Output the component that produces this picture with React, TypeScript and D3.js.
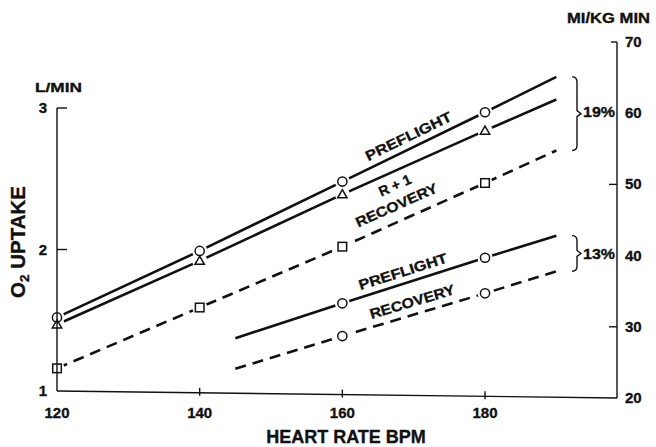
import React from "react";
import * as d3 from "d3";

const W = 656;
const H = 447;

// Axis ticks
const bpmTicks = [120, 140, 160, 180];
const leftTicks = [1, 2, 3];
const rightTicks = [20, 30, 40, 50, 60, 70];
const rightTickMarks = [30, 50, 70];

// Oxygen uptake in L/min (left scale)
const upperBpm = [120, 140, 160, 180, 190];
const upperMarked = [120, 140, 160, 180];
const preflightL = [1.52, 1.99, 2.48, 2.97, 3.22];
const rPlus1L = [1.47, 1.92, 2.39, 2.84, 3.06];
const recoveryL = [1.16, 1.59, 2.02, 2.47, 2.7];

// Oxygen uptake in ml/kg min (right scale)
const lowerBpm = [145, 160, 180, 190];
const lowerMarked = [160, 180];
const preflightMl = [28.4, 33.3, 39.7, 42.8];
const recoveryMl = [24.1, 28.7, 34.7, 37.8];

const FONT = "'Liberation Sans', Arial, Helvetica, sans-serif";
const INK = "#111";

const x = d3.scaleLinear().domain([120, 198.5]).range([57, 617]);
const yL = d3.scaleLinear().domain([1, 3]).range([391, 108]);
const yR = d3.scaleLinear().domain([20, 70]).range([398, 42]);

type Series = {
  id: string;
  bpm: number[];
  vals: number[];
  y: d3.ScaleLinear<number, number>;
  marked: number[];
  marker: "circle" | "triangle" | "square";
  dashed: boolean;
};

const series: Series[] = [
  { id: "pre", bpm: upperBpm, vals: preflightL, y: yL, marked: upperMarked, marker: "circle", dashed: false },
  { id: "r1", bpm: upperBpm, vals: rPlus1L, y: yL, marked: upperMarked, marker: "triangle", dashed: false },
  { id: "rec", bpm: upperBpm, vals: recoveryL, y: yL, marked: upperMarked, marker: "square", dashed: true },
  { id: "preMl", bpm: lowerBpm, vals: preflightMl, y: yR, marked: lowerMarked, marker: "circle", dashed: false },
  { id: "recMl", bpm: lowerBpm, vals: recoveryMl, y: yR, marked: lowerMarked, marker: "circle", dashed: true },
];

function pointAt(s: Series, b: number): [number, number, number] {
  let i = 0;
  while (i < s.bpm.length - 2 && b > s.bpm[i + 1]) i++;
  const t = (b - s.bpm[i]) / (s.bpm[i + 1] - s.bpm[i]);
  const v = s.vals[i] + t * (s.vals[i + 1] - s.vals[i]);
  const x0 = x(s.bpm[i]), y0 = s.y(s.vals[i]);
  const x1 = x(s.bpm[i + 1]), y1 = s.y(s.vals[i + 1]);
  const ang = (Math.atan2(y1 - y0, x1 - x0) * 180) / Math.PI;
  return [x(b), s.y(v), ang];
}

const lineLabels = [
  { s: 0, text: "PREFLIGHT", b: 170, off: -7, len: 94 },
  { s: 1, text: "R + 1", b: 166.6, off: 18, len: 34 },
  { s: 2, text: "RECOVERY", b: 168.5, off: -11, len: 88 },
  { s: 3, text: "PREFLIGHT", b: 169, off: -7, len: 92 },
  { s: 4, text: "RECOVERY", b: 170.3, off: -8, len: 88 },
];

function Marker({ kind, cx, cy }: { kind: string; cx: number; cy: number }) {
  const st = { fill: "none", stroke: INK, strokeWidth: 1.5 };
  if (kind === "circle") return <circle cx={cx} cy={cy} r={4.6} {...st} />;
  if (kind === "square") return <rect x={cx - 4.3} y={cy - 4.3} width={8.6} height={8.6} {...st} />;
  const tri = d3.symbol().type(d3.symbolTriangle).size(38)()!;
  return <path d={tri} transform={`translate(${cx},${cy + 0.8})`} {...st} />;
}

function Bracket({ top, bottom, xl }: { top: number; bottom: number; xl: number }) {
  const xv = xl + 5;
  const mid = (top + bottom) / 2;
  const d = `M${xl},${top} Q${xv},${top} ${xv},${top + 5} V${mid - 3} L${xv + 4},${mid} L${xv},${mid + 3} V${bottom - 5} Q${xv},${bottom} ${xl},${bottom}`;
  return <path d={d} fill="none" stroke={INK} strokeWidth={1.4} />;
}

export default function App() {
  const line = (s: Series) =>
    d3.line<number>().x((_, i) => x(s.bpm[i])).y((v) => s.y(v))(s.vals)!;

  const x0 = x(120);
  const x1 = x(198.5);
  const lastIdx = upperBpm.length - 1;
  const lastLow = lowerBpm.length - 1;

  return (
    <svg width={W} height={H} style={{ position: "absolute", left: 0, top: 0, background: "#fff" }} fontFamily={FONT} fontWeight="bold">
      <defs>
        <mask id="gaps" maskUnits="userSpaceOnUse" x={0} y={0} width={W} height={H}>
          <rect x={0} y={0} width={W} height={H} fill="#fff" />
          {series.map((s) =>
            s.marked.map((b) => {
              const i = s.bpm.indexOf(b);
              return <circle key={s.id + b} cx={x(b)} cy={s.y(s.vals[i])} r={7.5} fill="#000" />;
            })
          )}
        </mask>
      </defs>
      <rect width={W} height={H} fill="#fff" />

      {/* axes frame */}
      <g stroke={INK} strokeWidth={1.4} fill="none">
        <line x1={x0} y1={yL(3)} x2={x0} y2={yL(1)} />
        <line x1={x0} y1={yL(1)} x2={x1} y2={yR(20)} />
        <line x1={x1} y1={yR(70)} x2={x1} y2={yR(20)} />
        {leftTicks.filter((t) => t > 1).map((t) => (
          <line key={t} x1={x0} y1={yL(t)} x2={x0 + 10} y2={yL(t)} />
        ))}
        {rightTickMarks.map((t) => (
          <line key={t} x1={x1 - (t === 70 ? 6 : 8)} y1={yR(t)} x2={x1} y2={yR(t)} />
        ))}
        {bpmTicks.filter((t) => t > 120).map((t) => {
          const yy = yL(1) + ((x(t) - x0) / (x1 - x0)) * (yR(20) - yL(1));
          return <line key={t} x1={x(t)} y1={yy - 5} x2={x(t)} y2={yy + 3} />;
        })}
      </g>

      <g fill={INK} stroke={INK} strokeWidth={0.35}>
        {/* tick labels */}
        <g fontSize={15}>
          {leftTicks.map((t) => (
            <text key={t} x={x0 - 10} y={yL(t) + 5} textAnchor="end">{t}</text>
          ))}
          {rightTicks.map((t) => (
            <text key={t} x={x1 + 8} y={yR(t) + 5} textAnchor="start">{t}</text>
          ))}
          {bpmTicks.map((t) => (
            <text key={t} x={x(t)} y={418} textAnchor="middle">{t}</text>
          ))}
        </g>

        {/* axis titles */}
        <text x={35} y={92} fontSize={13} textLength={47} lengthAdjust="spacingAndGlyphs">L/MIN</text>
        <text x={567} y={23} fontSize={14} textLength={83} lengthAdjust="spacingAndGlyphs">MI/KG MIN</text>
        <text x={346} y={443} fontSize={18} textAnchor="middle">HEART RATE BPM</text>
        <text transform="translate(25,298) rotate(-90)" fontSize={20.5}>
          O<tspan fontSize={13.5} dy={4}>2</tspan>
          <tspan dy={-4}> UPTAKE</tspan>
        </text>
      </g>

      {/* series lines */}
      <g mask="url(#gaps)" fill="none" stroke={INK} strokeWidth={2.6}>
        {series.map((s) => (
          <path key={s.id} d={line(s)} strokeDasharray={s.dashed ? "11,7" : undefined} />
        ))}
      </g>

      {/* markers */}
      {series.map((s) =>
        s.marked.map((b) => {
          const i = s.bpm.indexOf(b);
          return <Marker key={s.id + b} kind={s.marker} cx={x(b)} cy={s.y(s.vals[i])} />;
        })
      )}

      {/* in-line labels */}
      <g fill={INK} stroke={INK} strokeWidth={0.35}>
        {lineLabels.map((l, k) => {
          const [px, py, ang] = pointAt(series[l.s], l.b);
          return (
            <text
              key={k}
              transform={`translate(${px},${py}) rotate(${ang})`}
              y={l.off}
              textAnchor="middle"
              fontSize={14}
              textLength={l.len}
              lengthAdjust="spacingAndGlyphs"
            >
              {l.text}
            </text>
          );
        })}

        {/* percentage brackets */}
        <text x={583} y={yL(preflightL[lastIdx]) + 40} fontSize={15} textLength={32} lengthAdjust="spacingAndGlyphs">19%</text>
        <text x={583} y={yR(preflightMl[lastLow]) + 23} fontSize={15} textLength={32} lengthAdjust="spacingAndGlyphs">13%</text>
      </g>
      <Bracket top={yL(preflightL[lastIdx])} bottom={yL(recoveryL[lastIdx])} xl={572} />
      <Bracket top={yR(preflightMl[lastLow])} bottom={yR(recoveryMl[lastLow])} xl={572} />
    </svg>
  );
}
